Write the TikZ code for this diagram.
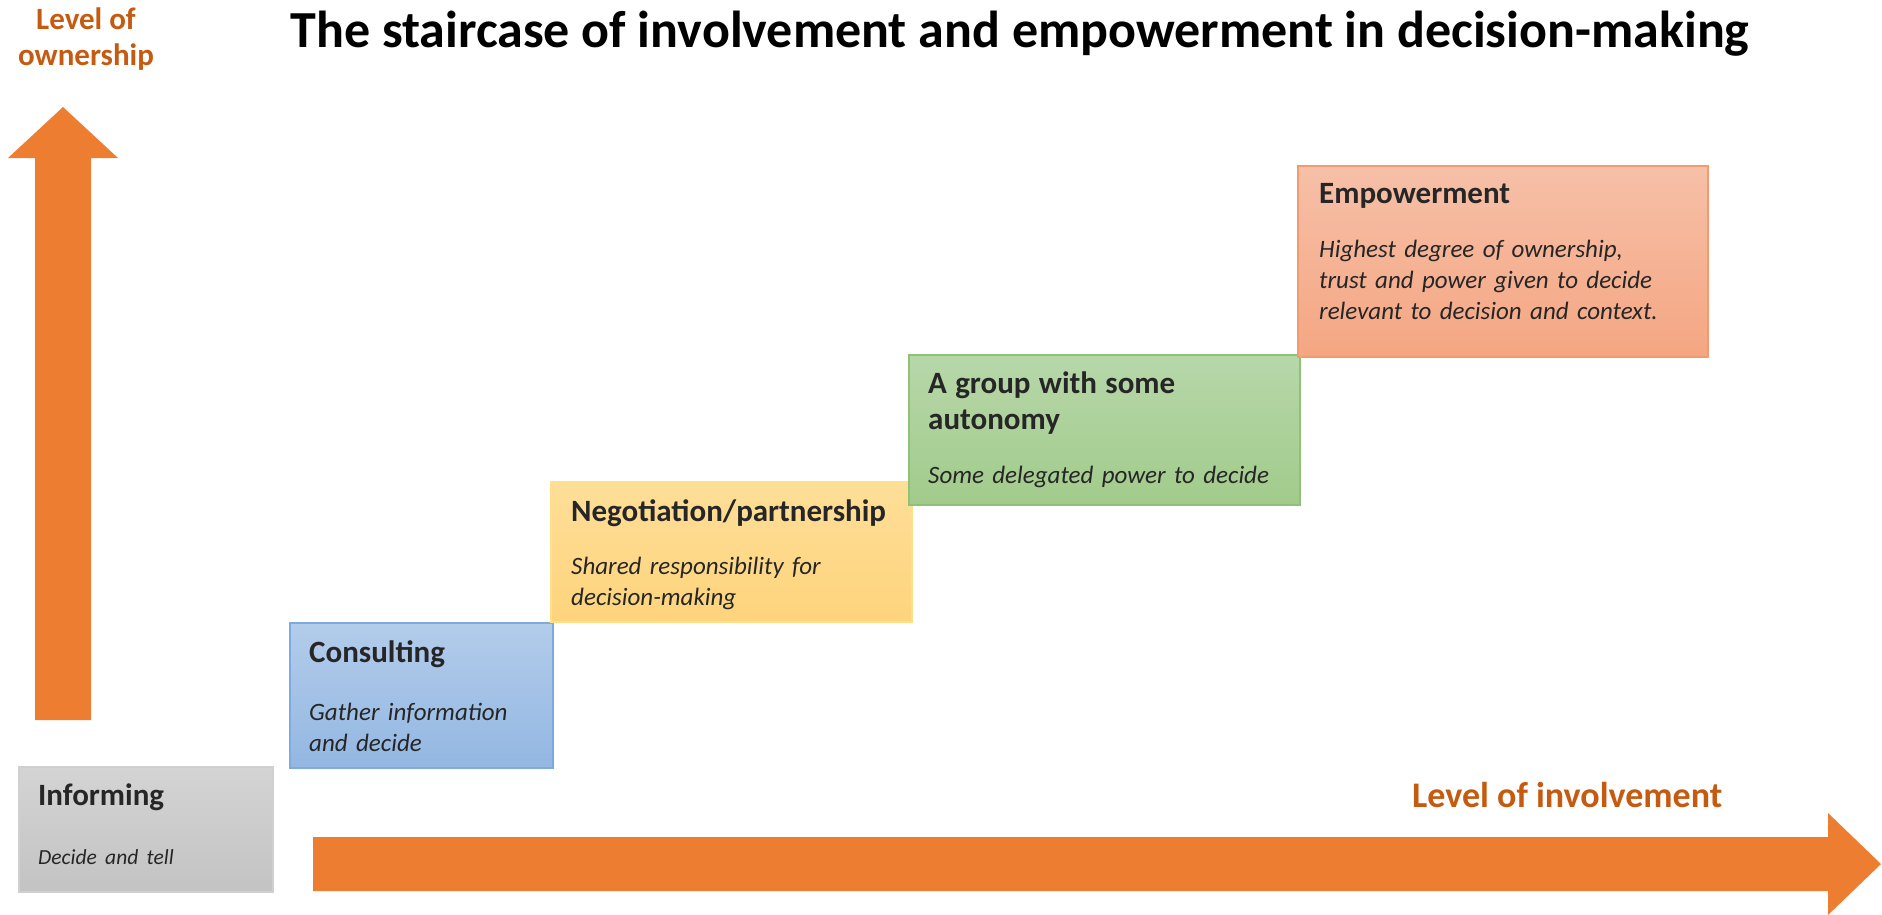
\documentclass[tikz,border=0pt]{standalone}
\usepackage{fontspec}
\setmainfont{Carlito}
\usetikzlibrary{positioning}

\definecolor{arrowOrange}{HTML}{ED7D31}
\definecolor{labelOrange}{HTML}{C55A11}
\definecolor{infoTop}{HTML}{D4D4D4}
\definecolor{infoBot}{HTML}{C3C3C3}
\definecolor{infoLine}{HTML}{D0D0D0}
\definecolor{consTop}{HTML}{B3CCEA}
\definecolor{consBot}{HTML}{93B7E2}
\definecolor{consLine}{HTML}{7FAADF}
\definecolor{negoTop}{HTML}{FEDE98}
\definecolor{negoBot}{HTML}{FED47C}
\definecolor{negoLine}{HTML}{FFDF88}
\definecolor{groupTop}{HTML}{B7D7A9}
\definecolor{groupBot}{HTML}{A1CB8B}
\definecolor{groupLine}{HTML}{8FC177}
\definecolor{empTop}{HTML}{F6C0A8}
\definecolor{empBot}{HTML}{F5A682}
\definecolor{empLine}{HTML}{F29B6E}

\newcommand{\stagehead}{\fontsize{31}{37}\selectfont\bfseries}

\tikzset{
  stagebox/.style={draw, line width=2pt, anchor=north west, inner sep=0pt},
  stagetext/.style={anchor=north west, inner sep=0pt, align=left, text width=390pt,
    font=\fontsize{25}{31}\selectfont\color{black!85}},
  axislabel/.style={inner sep=0pt, text=labelOrange,
    font=\fontsize{31}{36}\selectfont\bfseries},
}

\begin{document}
\begin{tikzpicture}[x=1pt, y=-1pt, line join=miter]

  % canvas, same size as the original
  \useasboundingbox (0,0) rectangle (1882,914);

  % corners of the two block arrows
  \coordinate (hTail) at (313,864);   % left end of the involvement arrow
  \coordinate (hHead) at (1828,864);  % where its head starts
  \coordinate (hTip)  at (1881,864);  % its tip
  \coordinate (vTail) at (63,720);    % bottom of the ownership arrow
  \coordinate (vHead) at (63,158);    % where its head starts
  \coordinate (vTip)  at (63,107);    % its tip

  % involvement arrow (horizontal)
  \fill[arrowOrange] ([yshift=-27pt]hTail) -- ([yshift=-27pt]hHead)
       -- ([yshift=-51pt]hHead) -- (hTip) -- ([yshift=51pt]hHead)
       -- ([yshift=27pt]hHead) -- ([yshift=27pt]hTail) -- cycle;

  % ownership arrow (vertical)
  \fill[arrowOrange] ([xshift=-28pt]vTail) -- ([xshift=-28pt]vHead)
       -- ([xshift=-55pt]vHead) -- (vTip) -- ([xshift=55pt]vHead)
       -- ([xshift=28pt]vHead) -- ([xshift=28pt]vTail) -- cycle;

  % axis labels and title
  \node[axislabel, align=center, anchor=north] (ownLbl) at (86,8) {Level of\\ownership};
  \node[axislabel, anchor=base west, font=\fontsize{36}{42}\selectfont\bfseries]
       (invLbl) at (1412,807) {Level of involvement};
  \node[inner sep=0pt, anchor=base, font=\fontsize{52}{60}\selectfont\bfseries]
       (title) at (1020,47) {The staircase of involvement and empowerment in decision-making};

  % the five steps
  \node[stagebox, draw=infoLine, top color=infoTop, bottom color=infoBot,
        minimum width=254pt, minimum height=125pt] (inform) at (18,766) {};
  \node[stagebox, draw=consLine, top color=consTop, bottom color=consBot,
        minimum width=263pt, minimum height=145pt] (consult) at (289,622) {};
  \node[stagebox, draw=negoLine, top color=negoTop, bottom color=negoBot,
        minimum width=361pt, minimum height=140pt] (nego) at (550,481) {};
  \node[stagebox, draw=groupLine, top color=groupTop, bottom color=groupBot,
        minimum width=391pt, minimum height=150pt] (group) at (908,354) {};
  \node[stagebox, draw=empLine, top color=empTop, bottom color=empBot,
        minimum width=410pt, minimum height=191pt] (empower) at (1297,165) {};

  % text of each step
  \node[stagetext] (informTxt) at ([xshift=20pt, yshift=-18pt]inform.north west)
       {{\stagehead Informing}\\[28pt]{\itshape\fontsize{21.5}{25}\selectfont Decide and tell}};
  \node[stagetext] (consultTxt) at ([xshift=20pt, yshift=-18pt]consult.north west)
       {{\stagehead Consulting}\\[27pt]{\itshape Gather information\\and decide}};
  \node[stagetext] (negoTxt) at ([xshift=21pt, yshift=-18pt]nego.north west)
       {{\stagehead Negotiation/partnership}\\[22pt]{\itshape Shared responsibility for\\decision-making}};
  \node[stagetext] (groupTxt) at ([xshift=20pt, yshift=-18pt]group.north west)
       {{\stagehead A group with some\\[5pt]autonomy}\\[23pt]{\itshape Some delegated power to decide}};
  \node[stagetext] (empowerTxt) at ([xshift=22pt, yshift=-18pt]empower.north west)
       {{\stagehead Empowerment}\\[23pt]{\itshape Highest degree of ownership,\\trust and power given to decide\\relevant to decision and context.}};

\end{tikzpicture}
\end{document}
